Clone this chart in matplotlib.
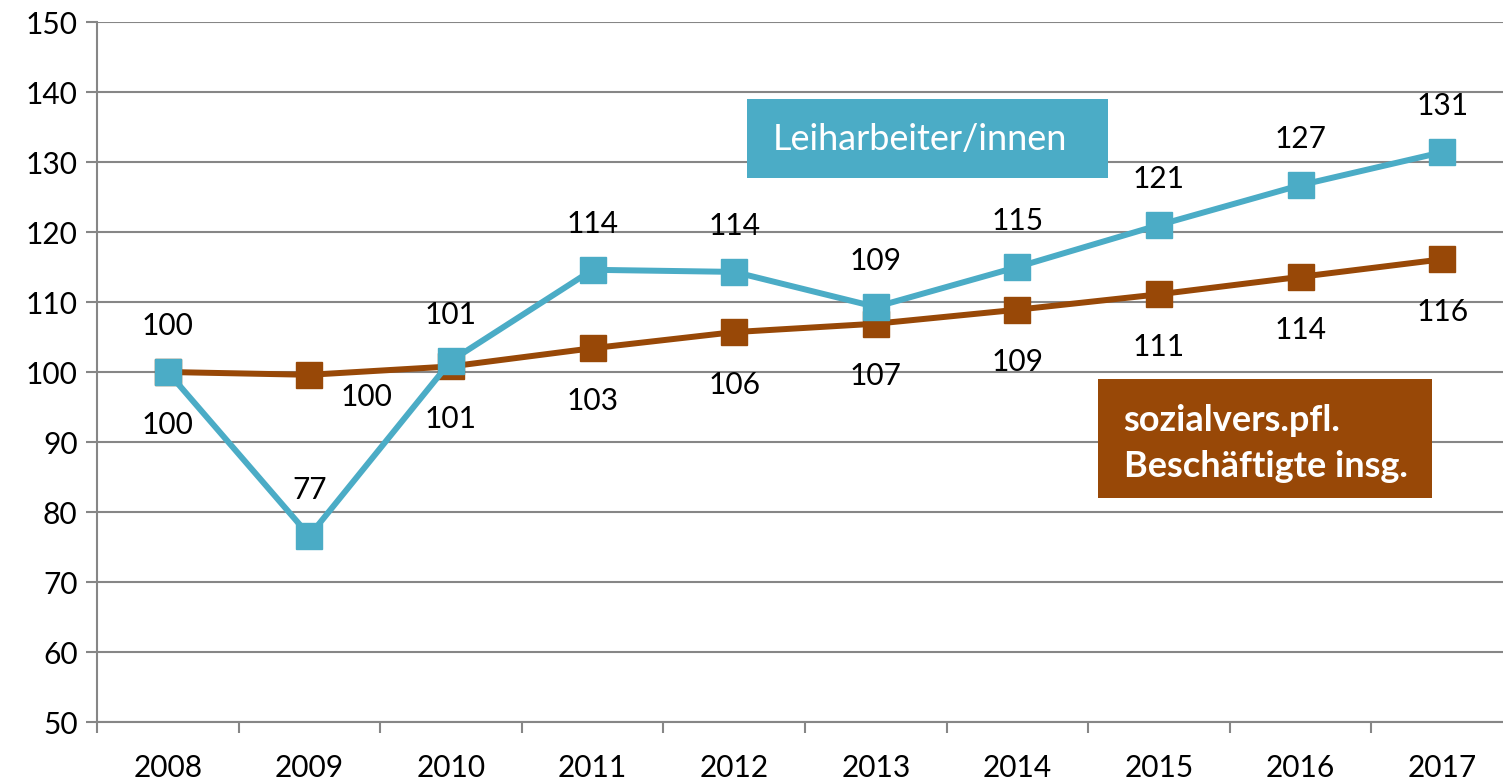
import matplotlib.pyplot as plt
from matplotlib.patches import Rectangle

plt.rcParams.update({
    "font.family": ["Lato", "DejaVu Sans"],
    "font.size": 21,
})

years = ["2008", "2009", "2010", "2011", "2012", "2013", "2014", "2015", "2016", "2017"]
leih = [100, 76.6, 101.6, 114.6, 114.3, 109.3, 115.0, 121.0, 126.7, 131.4]
leih_labels = ["100", "77", "101", "114", "114", "109", "115", "121", "127", "131"]
svb = [100, 99.6, 100.8, 103.4, 105.7, 106.9, 108.9, 111.1, 113.6, 116.1]
svb_labels = ["100", "100", "101", "103", "106", "107", "109", "111", "114", "116"]

teal = "#4BACC6"
brown = "#984807"
grey = "#868686"

W, H = 1503, 784
fig = plt.figure(figsize=(W / 100, H / 100), dpi=100)
# axes spans pixel x 97..1513 and y 22..722 (right edge runs off the picture)
ax = fig.add_axes([97 / W, 1 - 722 / H, 1416 / W, 700 / H])

x = list(range(len(years)))
ax.plot(x, svb, color=brown, lw=4.3, marker="s", ms=19, zorder=3)
ax.plot(x, leih, color=teal, lw=4.3, marker="s", ms=19, zorder=4)

for i in x:
    ax.annotate(leih_labels[i], (i, leih[i]), xytext=(0, 33), textcoords="offset points",
                ha="center", va="center", fontsize=21.5, color="black")
    if i == 1:
        ax.annotate(svb_labels[i], (i, svb[i]), xytext=(41, -16), textcoords="offset points",
                    ha="center", va="center", fontsize=21.5, color="black")
    else:
        ax.annotate(svb_labels[i], (i, svb[i]), xytext=(0, -38), textcoords="offset points",
                    ha="center", va="center", fontsize=21.5, color="black")

ax.set_xlim(-0.5, 9.5)
ax.set_ylim(50, 150)
ax.set_yticks(range(50, 151, 10))
ax.set_xticks(x)
ax.set_xticklabels(years)
ax.set_xticks([i + 0.5 for i in range(-1, 10)], minor=True)
ax.tick_params(axis="x", which="major", length=0, pad=23, labelsize=21.5)
ax.tick_params(axis="x", which="minor", length=8, width=1.5, color=grey)
ax.tick_params(axis="y", length=8, width=1.5, color=grey, pad=6, labelsize=21.5)
ax.grid(axis="y", color=grey, lw=1.5)
ax.set_axisbelow(True)
for s in ["top", "right"]:
    ax.spines[s].set_visible(False)
for s in ["left", "bottom"]:
    ax.spines[s].set_color(grey)
    ax.spines[s].set_linewidth(1.5)

# label boxes
ax.add_patch(Rectangle((4.09, 127.7), 2.55, 11.3, facecolor=teal, edgecolor="none", zorder=5))
ax.text(4.27, 133.2, "Leiharbeiter/innen", color="white", fontsize=26, va="center", ha="left", zorder=6)
ax.add_patch(Rectangle((6.57, 82.0), 2.36, 17.0, facecolor=brown, edgecolor="none", zorder=5))
ax.text(6.75, 93.1, "sozialvers.pfl.", color="white", fontsize=26, fontweight="bold",
        va="center", ha="left", zorder=6)
ax.text(6.75, 86.5, "Beschäftigte insg.", color="white", fontsize=26, fontweight="bold",
        va="center", ha="left", zorder=6)

fig.savefig("out.png", dpi=100)
